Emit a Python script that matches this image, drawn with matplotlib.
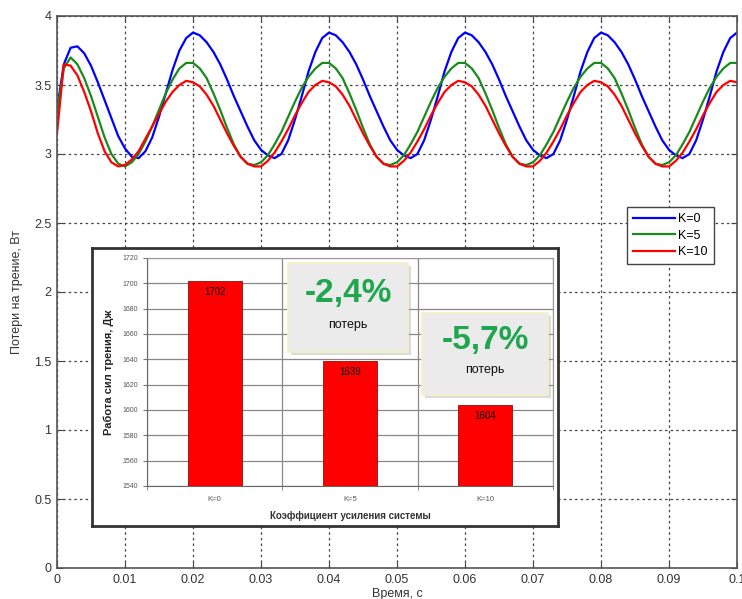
import numpy as np
import matplotlib.pyplot as plt
from matplotlib.patches import Rectangle

t = np.arange(0, 101) / 1000.0

loss_k0 = [3.32, 3.65, 3.77, 3.78, 3.73, 3.64, 3.52, 3.39, 3.26, 3.13, 3.04, 2.98, 2.97, 3.02, 3.12, 3.27, 3.44, 3.61, 3.75, 3.84,
           3.88, 3.86, 3.81, 3.74, 3.65, 3.54, 3.42, 3.31, 3.20, 3.10, 3.03, 2.99, 2.97, 3.00, 3.10, 3.25, 3.42, 3.60, 3.74, 3.84,
           3.88, 3.86, 3.81, 3.74, 3.65, 3.54, 3.42, 3.31, 3.20, 3.10, 3.03, 2.99, 2.97, 3.00, 3.10, 3.25, 3.42, 3.60, 3.74, 3.84,
           3.88, 3.86, 3.81, 3.74, 3.65, 3.54, 3.42, 3.31, 3.20, 3.10, 3.03, 2.99, 2.97, 3.00, 3.10, 3.25, 3.42, 3.60, 3.74, 3.84,
           3.88, 3.86, 3.81, 3.74, 3.65, 3.54, 3.42, 3.31, 3.20, 3.10, 3.03, 2.99, 2.97, 3.00, 3.10, 3.25, 3.42, 3.60, 3.74, 3.84,
           3.88]
loss_k5 = [3.30, 3.62, 3.70, 3.65, 3.55, 3.42, 3.27, 3.12, 3.00, 2.93, 2.91, 2.94, 3.00, 3.09, 3.20, 3.32, 3.44, 3.54, 3.62, 3.66,
           3.66, 3.62, 3.55, 3.44, 3.32, 3.19, 3.07, 2.98, 2.93, 2.92, 2.94, 2.99, 3.07, 3.16, 3.27, 3.38, 3.48, 3.56, 3.62, 3.66,
           3.66, 3.62, 3.55, 3.44, 3.32, 3.19, 3.07, 2.98, 2.93, 2.92, 2.94, 2.99, 3.07, 3.16, 3.27, 3.38, 3.48, 3.56, 3.62, 3.66,
           3.66, 3.62, 3.55, 3.44, 3.32, 3.19, 3.07, 2.98, 2.93, 2.92, 2.94, 2.99, 3.07, 3.16, 3.27, 3.38, 3.48, 3.56, 3.62, 3.66,
           3.66, 3.62, 3.55, 3.44, 3.32, 3.19, 3.07, 2.98, 2.93, 2.92, 2.94, 2.99, 3.07, 3.16, 3.27, 3.38, 3.48, 3.56, 3.62, 3.66,
           3.66]
loss_k10 = [3.15, 3.65, 3.64, 3.57, 3.45, 3.31, 3.15, 3.02, 2.94, 2.91, 2.92, 2.96, 3.02, 3.11, 3.20, 3.29, 3.38, 3.45, 3.50, 3.53,
            3.52, 3.49, 3.43, 3.35, 3.25, 3.15, 3.06, 2.98, 2.93, 2.91, 2.91, 2.95, 3.01, 3.09, 3.18, 3.28, 3.37, 3.45, 3.50, 3.53,
            3.52, 3.49, 3.43, 3.35, 3.25, 3.15, 3.06, 2.98, 2.93, 2.91, 2.91, 2.95, 3.01, 3.09, 3.18, 3.28, 3.37, 3.45, 3.50, 3.53,
            3.52, 3.49, 3.43, 3.35, 3.25, 3.15, 3.06, 2.98, 2.93, 2.91, 2.91, 2.95, 3.01, 3.09, 3.18, 3.28, 3.37, 3.45, 3.50, 3.53,
            3.52, 3.49, 3.43, 3.35, 3.25, 3.15, 3.06, 2.98, 2.93, 2.91, 2.91, 2.95, 3.01, 3.09, 3.18, 3.28, 3.37, 3.45, 3.50, 3.53,
            3.52]
series_labels = ["K=0", "K=5", "K=10"]
series_colors = ["#0000ff", "#1a8a1a", "#ff0000"]

x_ticks = [0, 0.01, 0.02, 0.03, 0.04, 0.05, 0.06, 0.07, 0.08, 0.09, 0.1]
x_ticklabels = ["0", "0.01", "0.02", "0.03", "0.04", "0.05", "0.06", "0.07", "0.08", "0.09", "0.1"]
y_ticks = [0, 0.5, 1, 1.5, 2, 2.5, 3, 3.5, 4]
y_ticklabels = ["0", "0.5", "1", "1.5", "2", "2.5", "3", "3.5", "4"]

# inset: friction work per gain
gains = ["K=0", "K=5", "K=10"]
work = [1702, 1639, 1604]
bar_ticks = [1540, 1560, 1580, 1600, 1620, 1640, 1660, 1680, 1700, 1720]
reductions = ["-2,4%", "-5,7%"]

plt.rcParams['font.family'] = ['Liberation Sans', 'DejaVu Sans']

fig = plt.figure(figsize=(7.42, 5.99), dpi=100)
W, H = 742.0, 599.0

def box(x0, y0, x1, y1):
    # pixel box (top-left origin) -> figure fraction rect
    return [x0 / W, 1 - y1 / H, (x1 - x0) / W, (y1 - y0) / H]

ax = fig.add_axes(box(57, 16, 737, 568))
for vals, lab, col in zip([loss_k0, loss_k5, loss_k10], series_labels, series_colors):
    ax.plot(t, vals, color=col, lw=1.6, label=lab)
ax.set_xlim(0, 0.1)
ax.set_ylim(0, 4)
ax.set_xticks(x_ticks)
ax.set_xticklabels(x_ticklabels)
ax.set_yticks(y_ticks)
ax.set_yticklabels(y_ticklabels)
ax.tick_params(direction='in', length=4, labelsize=9, labelcolor='#333333', color='#444444', pad=4,
               top=True, right=True)
ax.grid(True, color='#444444', linestyle=(0, (2, 2.5)), lw=0.9)
for s in ax.spines.values():
    s.set_color('#555555')
    s.set_linewidth(1.2)
ax.set_xlabel("Время, с", fontsize=9, color='#333333', labelpad=2)
ax.set_ylabel("Потери на трение, Вт", fontsize=9, color='#333333', labelpad=8)

leg = ax.legend(loc='upper left', bbox_to_anchor=(627 / W, 1 - 207 / H), bbox_transform=fig.transFigure,
                borderaxespad=0, fancybox=False, edgecolor='#444444', framealpha=1, fontsize=9,
                handlelength=3.3, labelspacing=0.35, handletextpad=0.3, borderpad=0.5)
leg.get_frame().set_linewidth(1.0)

# inset frame
frame = fig.add_axes(box(92, 248, 558, 526))
frame.set_xticks([])
frame.set_yticks([])
frame.set_facecolor('white')
for s in frame.spines.values():
    s.set_color('#333333')
    s.set_linewidth(2)

bx = fig.add_axes(box(147, 258, 553, 486))
pos = np.arange(len(gains))
bars = bx.bar(pos, work, width=0.4, color='#ff0000', edgecolor='#8a1010', lw=0.6, zorder=3)
for p, v in zip(pos, work):
    bx.text(p, v - 5, str(v), ha='center', va='top', fontsize=7, color='black', zorder=4)
bx.set_xlim(-0.5, 2.5)
bx.set_ylim(1540, 1720)
bx.set_yticks(bar_ticks)
bx.set_yticklabels([str(v) for v in bar_ticks])
bx.set_xticks(pos)
bx.set_xticklabels(gains)
bx.set_xticks([-0.5, 0.5, 1.5, 2.5], minor=True)
bx.tick_params(axis='y', labelsize=5, labelcolor='#555555', color='#777777', length=3)
bx.tick_params(axis='x', which='major', labelsize=5.5, labelcolor='#555555', length=0, pad=7)
bx.tick_params(axis='x', which='minor', color='#777777', length=3)
bx.grid(True, axis='y', color='#888888', lw=0.9, zorder=0)
bx.grid(True, axis='x', which='minor', color='#888888', lw=0.9, zorder=0)
for s in bx.spines.values():
    s.set_color('#999999')
    s.set_linewidth(0.8)
bx.spines['left'].set_color('#666666')
bx.spines['bottom'].set_color('#666666')
bx.set_xlabel("Коэффициент усиления системы", fontsize=7, fontweight='bold', color='#333333', labelpad=6)
bx.set_ylabel("Работа сил трения, Дж", fontsize=8, fontweight='bold', color='#222222', labelpad=6)

# callout boxes with the loss reduction
callouts = [box(288, 263, 408, 352), box(422, 313, 548, 395)]
for rect, txt in zip(callouts, reductions):
    x0, y0, w, h = rect
    fig.patches.append(Rectangle((x0 + 3 / W, y0 - 3 / H), w, h, transform=fig.transFigure,
                                 facecolor='#999999', alpha=0.35, edgecolor='none', zorder=5))
    fig.patches.append(Rectangle((x0, y0), w, h, transform=fig.transFigure,
                                 facecolor='#ebebeb', edgecolor='#f2f2c4', lw=1.2, zorder=6))
    fig.text(x0 + w / 2, y0 + h * 0.66, txt, ha='center', va='center', fontsize=24,
             fontweight='bold', color='#1fa64e', zorder=7)
    fig.text(x0 + w / 2, y0 + h * 0.3, "потерь", ha='center', va='center', fontsize=9,
             color='#111111', zorder=7)

plt.savefig("out.png", dpi=100)
